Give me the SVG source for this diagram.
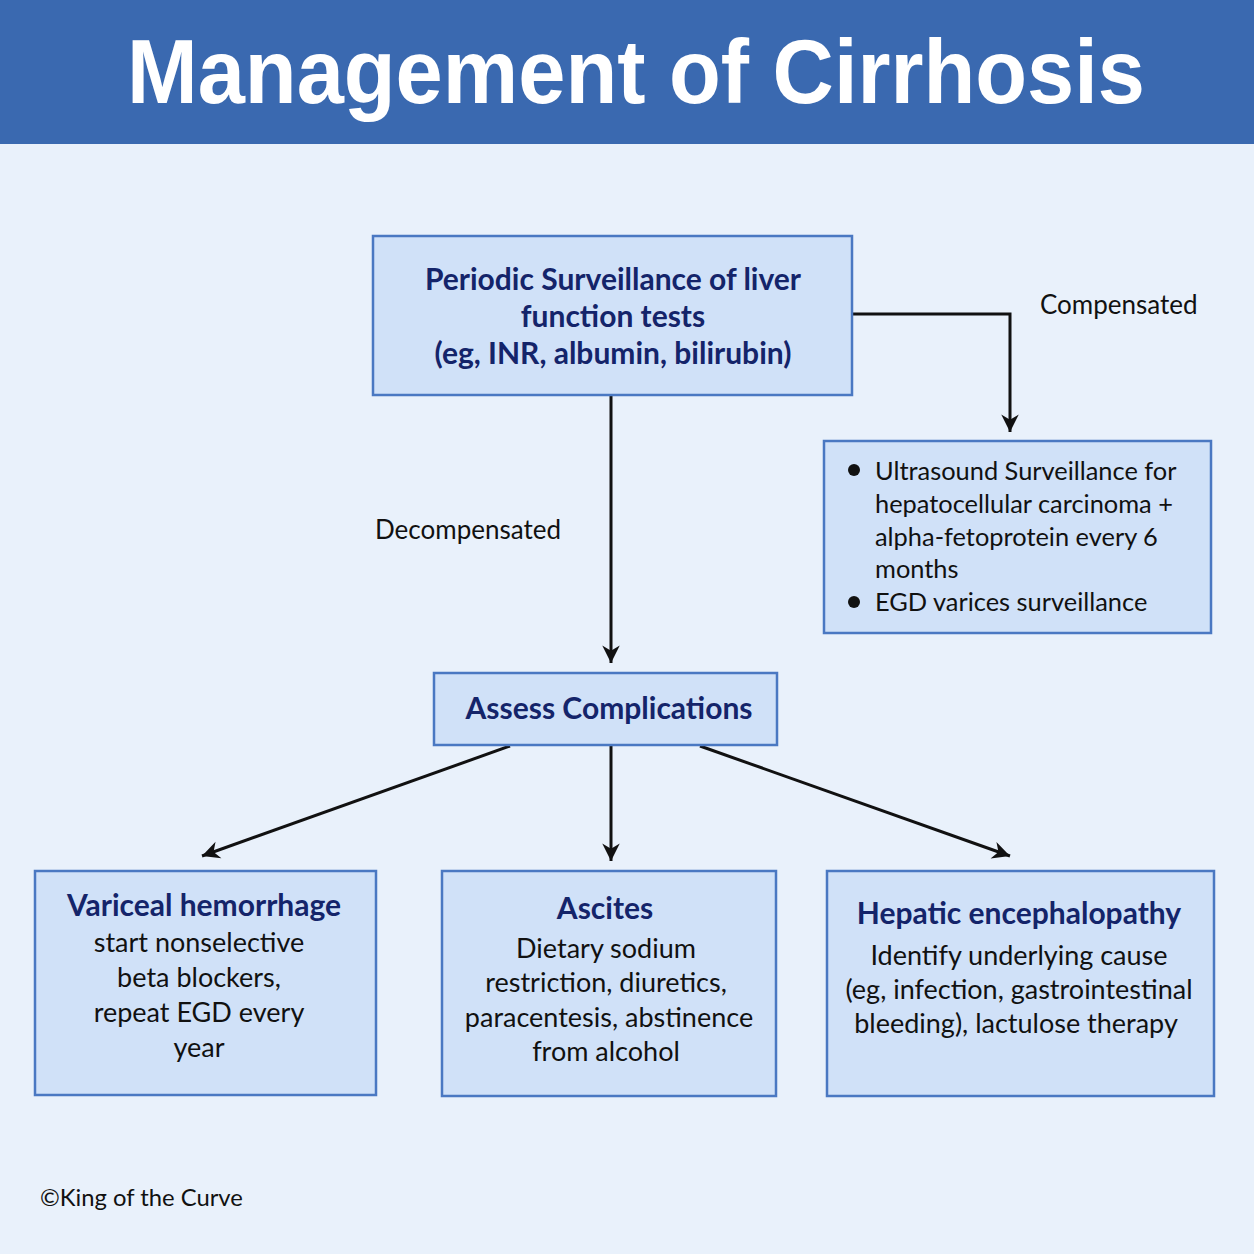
<svg xmlns="http://www.w3.org/2000/svg" width="1254" height="1254" viewBox="0 0 1254 1254">
<defs>
<style>
.box{fill:#d0e1f8;stroke:#4a78c2;stroke-width:2.5}
.t{font-family:Lato,"Noto Sans",sans-serif;font-weight:bold;fill:#14246a;font-size:30px;text-anchor:middle}
.b{font-family:Lato,"Noto Sans",sans-serif;fill:#111;font-size:27px;text-anchor:middle}
.bl{font-family:Lato,"Noto Sans",sans-serif;fill:#111;font-size:25.4px}
.lbl{font-family:Lato,"Noto Sans",sans-serif;fill:#111;font-size:26px}
.con{fill:none;stroke:#111;stroke-width:3}
</style>
<marker id="a" viewBox="0 0 12 12" refX="11" refY="6" markerWidth="21" markerHeight="21" markerUnits="userSpaceOnUse" orient="auto">
<path d="M1,1 L11,6 L1,11 L4,6 Z" fill="#111"/>
</marker>
</defs>
<rect width="1254" height="1254" fill="#e9f1fb"/>
<g id="header">
<rect x="0" y="0" width="1254" height="144" fill="#3a69b0"/>
<text x="636" y="103" font-family="'Liberation Sans',Arial,sans-serif" font-weight="bold" font-size="90" fill="#fff" text-anchor="middle" textLength="1018" lengthAdjust="spacingAndGlyphs">Management of Cirrhosis</text>
</g>
<g id="connectors">
<path class="con" d="M611,396 V663" marker-end="url(#a)"/>
<path class="con" d="M853,314 H1010 V432" marker-end="url(#a)"/>
<path class="con" d="M510,746 L202,856" marker-end="url(#a)"/>
<path class="con" d="M611,746 V861" marker-end="url(#a)"/>
<path class="con" d="M700,746 L1010,856" marker-end="url(#a)"/>
<text class="lbl" x="1040" y="314">Compensated</text>
<text class="lbl" x="375" y="539">Decompensated</text>
</g>
<g id="surveillance">
<rect class="box" x="373" y="236" width="479" height="159"/>
<text class="t" x="613" y="290">Periodic Surveillance of liver</text>
<text class="t" x="613" y="327">function tests</text>
<text class="t" x="613" y="364">(eg, INR, albumin, bilirubin)</text>
</g>
<g id="compensated">
<rect class="box" x="824" y="441" width="387" height="192"/>
<circle cx="854" cy="470" r="6" fill="#111"/>
<circle cx="854" cy="602" r="6" fill="#111"/>
<text class="bl" x="875" y="480">Ultrasound Surveillance for</text>
<text class="bl" x="875" y="513">hepatocellular carcinoma +</text>
<text class="bl" x="875" y="546">alpha-fetoprotein every 6</text>
<text class="bl" x="875" y="578">months</text>
<text class="bl" x="875" y="611">EGD varices surveillance</text>
</g>
<g id="assess">
<rect class="box" x="434" y="673" width="343" height="72"/>
<text class="t" x="609" y="719">Assess Complications</text>
</g>
<g id="variceal">
<rect class="box" x="35" y="871" width="341" height="224"/>
<text class="t" x="204" y="916">Variceal hemorrhage</text>
<text class="b" x="199" y="952">start nonselective</text>
<text class="b" x="199" y="987">beta blockers,</text>
<text class="b" x="199" y="1022">repeat EGD every</text>
<text class="b" x="199" y="1057">year</text>
</g>
<g id="ascites">
<rect class="box" x="442" y="871" width="334" height="225"/>
<text class="t" x="605" y="919">Ascites</text>
<text class="b" x="606" y="958">Dietary sodium</text>
<text class="b" x="606" y="992">restriction, diuretics,</text>
<text class="b" x="609" y="1027">paracentesis, abstinence</text>
<text class="b" x="606" y="1061">from alcohol</text>
</g>
<g id="hepatic">
<rect class="box" x="827" y="871" width="387" height="225"/>
<text class="t" x="1019" y="924">Hepatic encephalopathy</text>
<text class="b" x="1019" y="965">Identify underlying cause</text>
<text class="b" x="1019" y="999">(eg, infection, gastrointestinal</text>
<text class="b" x="1016" y="1033">bleeding), lactulose therapy</text>
</g>
<text x="40" y="1206" font-family="Lato,'Noto Sans',sans-serif" font-size="23.8" fill="#111">©King of the Curve</text>
</svg>
